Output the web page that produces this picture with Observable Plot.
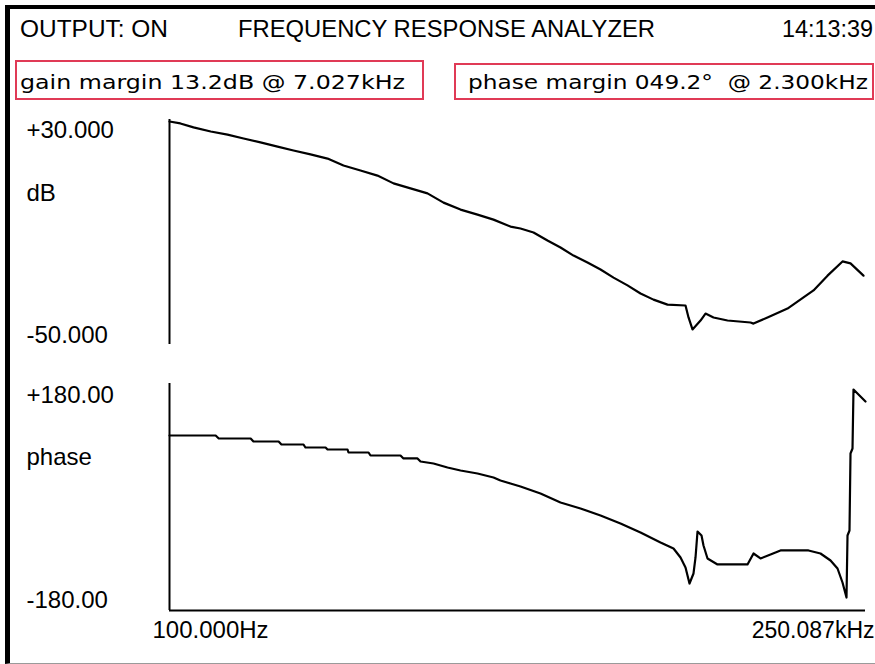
<!DOCTYPE html>
<html><head><meta charset="utf-8">
<script src="https://cdn.jsdelivr.net/npm/d3@7"></script>
<script src="https://cdn.jsdelivr.net/npm/@observablehq/plot@0.6"></script>
<style>
html,body{margin:0;padding:0;background:#fff;overflow:hidden}
#page{position:relative;width:875px;height:664px;overflow:hidden;background:#fff}
#border{position:absolute;left:5px;top:5px;width:870px;height:659px;box-sizing:border-box;border-top:4px solid #000;border-left:5px solid #000;border-bottom:1px solid #9a9a9a}
</style></head><body><div id="page"><div id="border"></div></div>
<script>
// ---- data ----
const freqMinHz = 100, freqMaxHz = 250087;
const headerTexts = ["OUTPUT: ON", "FREQUENCY RESPONSE ANALYZER", "14:13:39"];
const marginTexts = ["gain margin 13.2dB @ 7.027kHz", "phase margin 049.2°  @ 2.300kHz"];
const gainDomain = [-50, 30];
const gainTickLabels = ["+30.000", "-50.000"];
const gainLabel = "dB";
const phaseDomain = [-180, 180];
const phaseTickLabels = ["+180.00", "-180.00"];
const phaseLabel = "phase";
const xTickLabels = ["100.000Hz", "250.087kHz"];

const gainFreq = [100, 113, 131, 159, 192, 230, 278, 337, 403, 488, 591, 707, 856, 1036, 1241, 1502, 1818, 2177, 2635, 3190, 3818, 4622, 5172, 5988, 7005, 8110, 9387, 10985, 12718, 14717, 17225, 19937, 23067, 27007, 33063, 34200, 35765, 39138, 41396, 45290, 53018, 68650, 71010, 83090, 104060, 124580, 139400, 163200, 193100, 211300, 244500];
const gainDb = [30.0, 29.3, 27.9, 26.4, 25.3, 23.9, 22.5, 21.0, 19.6, 18.2, 16.7, 14.2, 12.4, 10.6, 7.8, 6.0, 4.2, 0.9, -1.6, -3.4, -5.2, -7.7, -8.4, -9.8, -12.7, -15.2, -18.1, -20.6, -23.1, -26.0, -28.8, -31.7, -33.9, -35.7, -36.0, -40.3, -44.6, -41.4, -38.9, -40.3, -41.4, -42.1, -42.5, -40.3, -37.1, -33.1, -30.6, -25.3, -20.2, -20.9, -25.3];

const phaseFreq = [100, 168, 174, 249, 257, 341, 352, 451, 461, 578, 591, 740, 748, 937, 958, 1342, 1388, 1625, 1681, 1945, 2277, 2635, 3190, 3818, 4130, 4622, 5172, 6476, 8110, 10153, 12718, 15920, 19937, 24960, 28890, 31260, 33063, 34580, 36170, 37000, 37840, 39580, 40470, 42340, 47370, 66370, 71010, 76800, 85980, 96180, 131800, 150800, 168800, 182600, 193100, 202000, 204300, 208900, 211300, 216100, 218500, 250087];
const phaseDeg = [97.5, 97.5, 92.8, 92.8, 88.0, 88.0, 83.3, 83.3, 78.5, 78.5, 75.3, 75.3, 70.6, 70.6, 65.8, 65.8, 61.1, 61.1, 56.3, 53.1, 46.8, 42.0, 37.3, 30.9, 26.2, 21.4, 16.7, 5.6, -8.7, -18.2, -29.3, -42.0, -56.3, -72.2, -81.7, -95.9, -111.8, -137.2, -121.3, -95.9, -54.7, -61.1, -76.9, -97.5, -107.0, -107.0, -89.6, -97.5, -91.2, -84.8, -84.8, -89.6, -100.7, -113.4, -135.6, -159.4, -61.1, -53.1, 69.0, 76.9, 170.5, 151.5];

// ---- header ----
const page = document.getElementById("page");
const RED = "#e03a56";
const hdr = d3.create("svg").attr("width", 875).attr("height", 105)
  .style("position", "absolute").style("left", "0px").style("top", "0px");
const hdrSpec = [
  {t: headerTexts[0], x: 20, y: 37, len: 148},
  {t: headerTexts[1], x: 238, y: 37, len: 417},
  {t: headerTexts[2], x: 782, y: 37, len: 91}
];
hdrSpec.forEach(s => hdr.append("text").attr("x", s.x).attr("y", s.y)
  .attr("textLength", s.len).attr("lengthAdjust", "spacingAndGlyphs")
  .attr("font-family", "'Liberation Sans', Arial, sans-serif").attr("font-size", 23)
  .attr("fill", "#000").text(s.t));
const boxSpec = [
  {t: marginTexts[0], rx: 16, ry: 61, rw: 407, rh: 38, x: 20, y: 88.5, len: 385},
  {t: marginTexts[1], rx: 455, ry: 64, rw: 418, rh: 35, x: 468, y: 89, len: 400}
];
boxSpec.forEach(s => {
  hdr.append("rect").attr("x", s.rx).attr("y", s.ry).attr("width", s.rw).attr("height", s.rh)
    .attr("fill", "none").attr("stroke", RED).attr("stroke-width", 2);
  hdr.append("text").attr("x", s.x).attr("y", s.y).attr("xml:space", "preserve")
    .style("white-space", "pre")
    .attr("textLength", s.len).attr("lengthAdjust", "spacingAndGlyphs")
    .attr("font-family", "'DejaVu Sans', sans-serif").attr("font-size", 20)
    .attr("fill", "#000").text(s.t);
});
page.appendChild(hdr.node());

// ---- plots ----
const FONT = "'Liberation Sans', Arial, sans-serif";
const gainData = gainFreq.map((f, i) => ({f, v: gainDb[i]}));
const phaseData = phaseFreq.map((f, i) => ({f, v: phaseDeg[i]}));
const lab = {fontSize: 24, fill: "#000", textAnchor: "start", lineAnchor: "bottom", dx: -143};
const LW = 2.2;

const gainPlot = Plot.plot({
  width: 875, height: 250,
  marginLeft: 169, marginRight: 10, marginTop: 14, marginBottom: 11,
  x: {type: "log", domain: [freqMinHz, freqMaxHz], axis: null},
  y: {domain: gainDomain, range: [239, 16], axis: null},
  style: {fontFamily: FONT, fontSize: "24px", color: "#000", background: "transparent"},
  marks: [
    Plot.ruleX([freqMinHz], {stroke: "#000", strokeWidth: 2}),
    Plot.line(gainData, {x: "f", y: "v", stroke: "#000", strokeWidth: LW}),
    Plot.text([gainDomain[1]], {...lab, y: d => d, text: () => gainTickLabels[0], frameAnchor: "left", dy: 16}),
    Plot.text([gainDomain[0]], {...lab, y: d => d, text: () => gainTickLabels[1], frameAnchor: "left", dy: -2}),
    Plot.text([gainLabel], {...lab, text: d => d, frameAnchor: "top-left", dy: 81})
  ]
});
gainPlot.style.position = "absolute";
gainPlot.style.left = "0px";
gainPlot.style.top = "105px";
page.appendChild(gainPlot);

const phasePlot = Plot.plot({
  width: 875, height: 280,
  marginLeft: 169, marginRight: 10, marginTop: 13, marginBottom: 40,
  x: {type: "log", domain: [freqMinHz, freqMaxHz], axis: null},
  y: {domain: phaseDomain, axis: null},
  style: {fontFamily: FONT, fontSize: "24px", color: "#000", background: "transparent"},
  marks: [
    Plot.ruleX([freqMinHz], {stroke: "#000", strokeWidth: 2}),
    Plot.ruleY([phaseDomain[0]], {stroke: "#000", strokeWidth: 2}),
    Plot.line(phaseData, {x: "f", y: "v", stroke: "#000", strokeWidth: LW}),
    Plot.text([phaseDomain[1]], {...lab, y: d => d, text: () => phaseTickLabels[0], frameAnchor: "left", dy: 19}),
    Plot.text([phaseDomain[0]], {...lab, y: d => d, text: () => phaseTickLabels[1], frameAnchor: "left", dy: -3}),
    Plot.text([phaseLabel], {...lab, text: d => d, frameAnchor: "top-left", dy: 81}),
    Plot.text([freqMinHz], {...lab, x: d => d, text: () => xTickLabels[0], frameAnchor: "bottom", dx: -17, dy: 27}),
    Plot.text([freqMaxHz], {...lab, x: d => d, text: () => xTickLabels[1], frameAnchor: "bottom", textAnchor: "end", fontSize: 23, dx: 9, dy: 27})
  ]
});
phasePlot.style.position = "absolute";
phasePlot.style.left = "0px";
phasePlot.style.top = "370px";
page.appendChild(phasePlot);
</script></body></html>
